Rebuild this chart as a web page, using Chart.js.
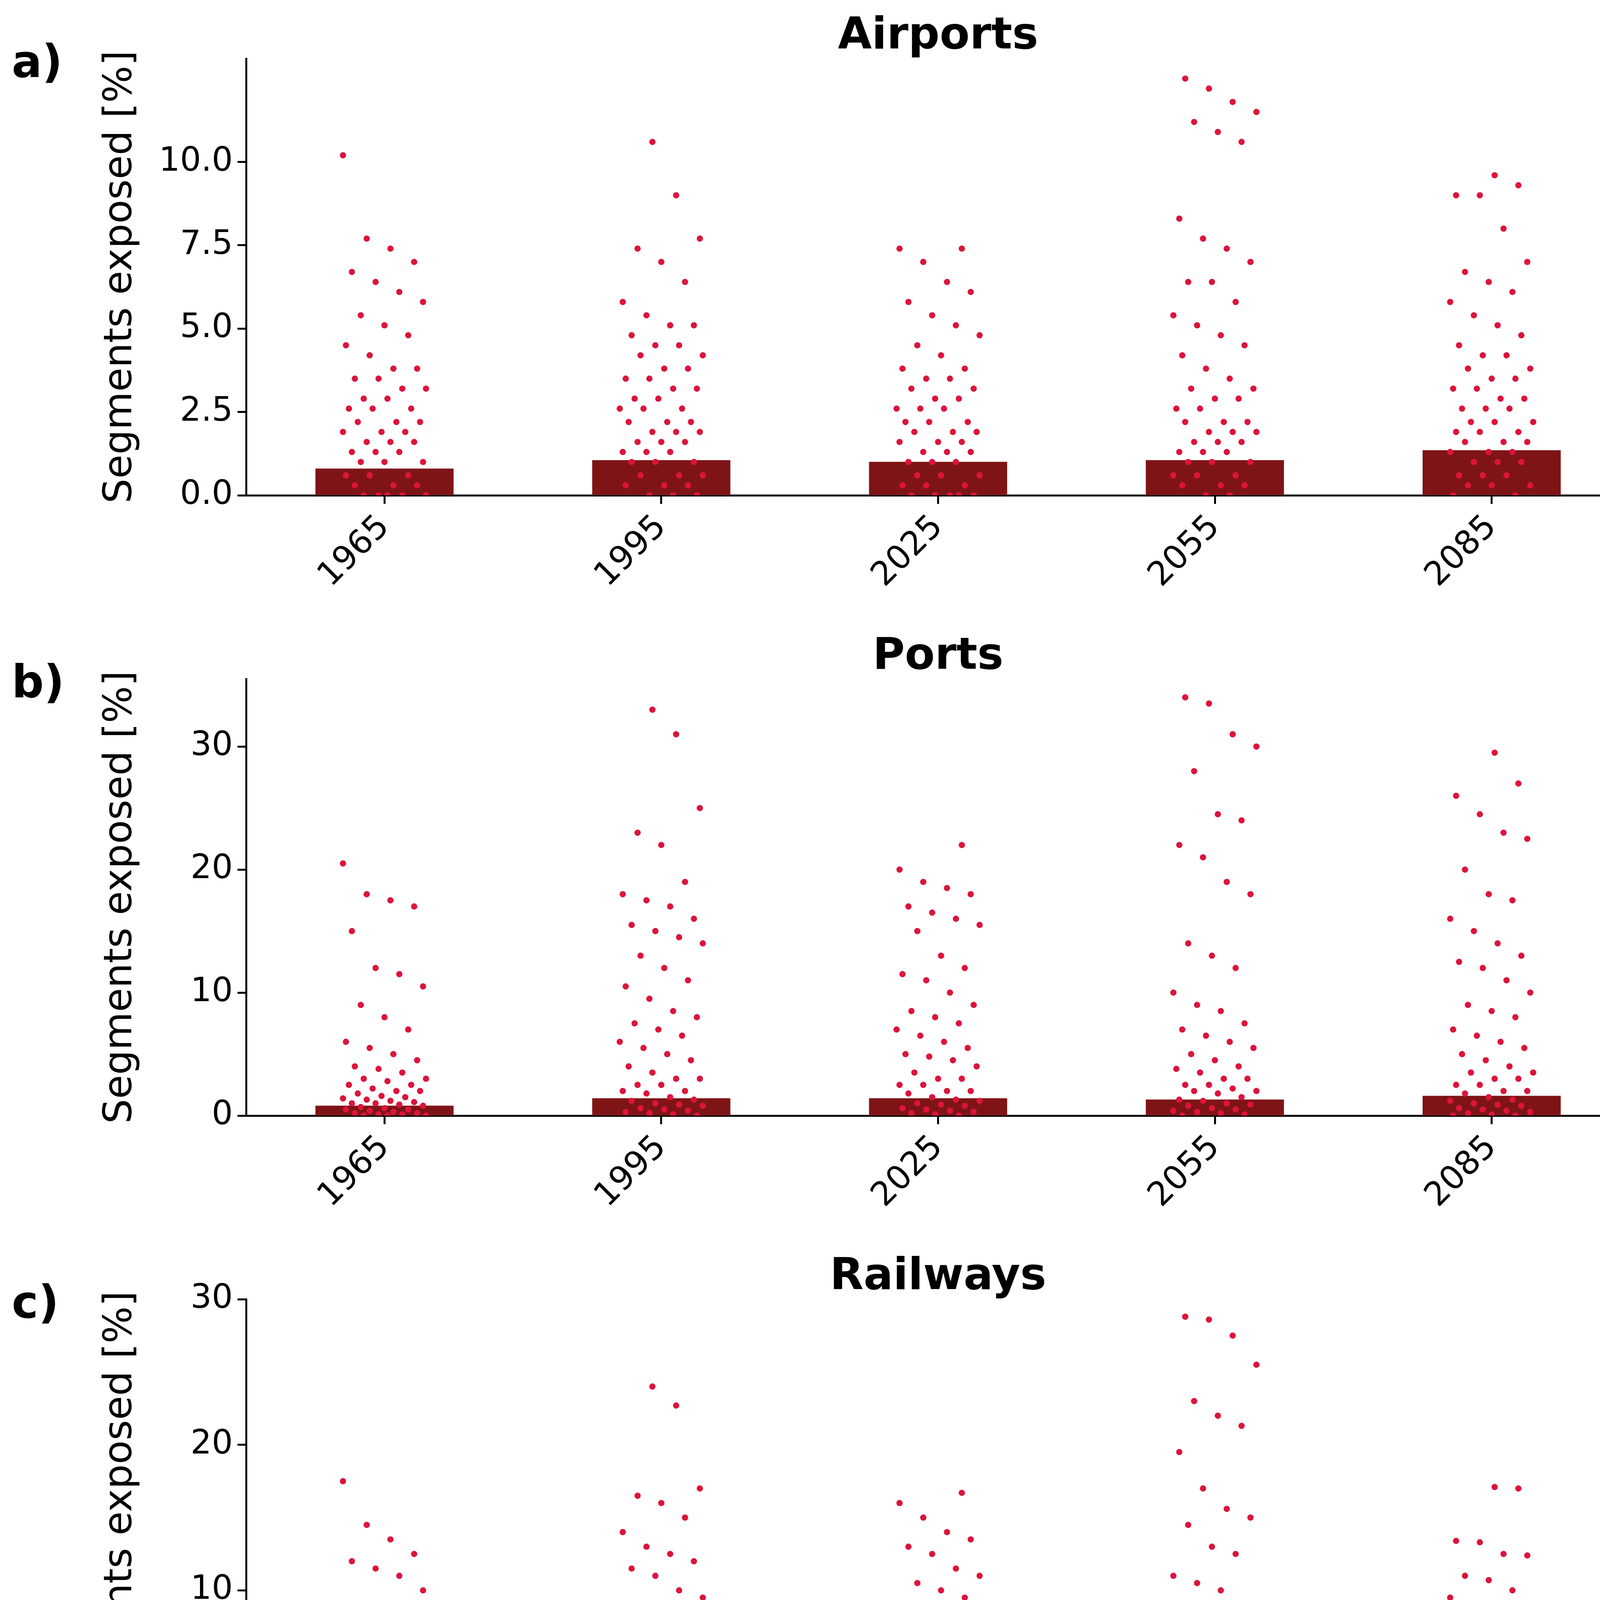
<!DOCTYPE html>
<html><head><meta charset="utf-8">
<script src="https://cdn.jsdelivr.net/npm/chart.js@4"></script>
<style>
body{margin:0;background:#fff;font-family:"DejaVu Sans",sans-serif}
.panel{position:absolute;left:0;width:4204px;height:1578px}
.lbl{position:absolute;left:30px;top:90px;font-weight:bold;font-size:115px}
.ttl{position:absolute;left:630px;width:3543px;top:20px;text-align:center;font-weight:bold;font-size:112px}
</style></head><body>
<script>
const years = ["1965","1995","2025","2055","2085"];
const titles = ["Airports","Ports","Railways","Roads","IWWs"];
const letters = ["a)","b)","c)","d)","e)"];
const yMax = [13.1, 35.5, 30, 20.8, 67];
const yStep = [2.5, 10, 10, 5, 20];

// mean exposure per year (bars)
const meanAirports = [0.8, 1.05, 1.0, 1.05, 1.35];
const meanPorts = [0.8, 1.4, 1.4, 1.3, 1.6];
const meanRailways = [1.0, 1.4, 1.5, 1.4, 1.6];
const meanRoads = [1.0, 1.3, 1.3, 1.25, 1.6];
const meanIWWs = [1.3, 2.5, 2.3, 2.2, 2.7];

// individual country values (strip points)
const ptsAirports = [
 [10.2,7.7,7.4,7.0,6.7,6.4,6.1,5.8,5.4,5.1,4.8,4.5,4.2,3.8,3.8,3.5,3.5,3.2,3.2,2.9,2.9,2.6,2.6,2.6,2.2,2.2,2.2,1.9,1.9,1.9,1.6,1.6,1.6,1.3,1.3,1.3,1.0,1.0,1.0,0.6,0.6,0.6,0.3,0.3,0.3,0,0,0,0,0],
 [10.6,9.0,7.7,7.4,7.0,6.4,5.8,5.4,5.1,5.1,4.8,4.5,4.5,4.2,4.2,3.8,3.8,3.5,3.5,3.2,3.2,2.9,2.9,2.6,2.6,2.6,2.2,2.2,2.2,1.9,1.9,1.9,1.6,1.6,1.6,1.3,1.3,1.3,1.0,1.0,1.0,0.6,0.6,0.6,0.3,0.3,0.3,0,0,0],
 [7.4,7.4,7.0,6.4,6.1,5.8,5.4,5.1,4.8,4.5,4.2,3.8,3.8,3.5,3.5,3.2,3.2,2.9,2.9,2.6,2.6,2.6,2.2,2.2,2.2,1.9,1.9,1.9,1.6,1.6,1.6,1.3,1.3,1.3,1.0,1.0,1.0,0.6,0.6,0.6,0.3,0.3,0.3,0,0,0,0,0],
 [12.5,12.2,11.8,11.5,11.2,10.9,10.6,8.3,7.7,7.4,7.0,6.4,6.4,5.8,5.4,5.1,4.8,4.5,4.2,3.8,3.5,3.2,3.2,2.9,2.9,2.6,2.6,2.2,2.2,2.2,1.9,1.9,1.9,1.6,1.6,1.6,1.3,1.3,1.3,1.0,1.0,1.0,0.6,0.6,0.6,0.3,0.3,0.3,0,0],
 [9.6,9.3,9.0,9.0,8.0,7.0,6.7,6.4,6.1,5.8,5.4,5.1,4.8,4.5,4.2,4.2,3.8,3.8,3.5,3.5,3.2,3.2,2.9,2.9,2.6,2.6,2.6,2.2,2.2,2.2,1.9,1.9,1.9,1.6,1.6,1.6,1.3,1.3,1.3,1.0,1.0,1.0,0.6,0.6,0.6,0.3,0.3,0.3,0,0]
];
const ptsPorts = [
 [20.5,18,17.5,17,15,12,11.5,10.5,9,8,7,6,5.5,5,4.5,4,3.8,3.5,3,3,2.8,2.5,2.5,2.2,2,2,1.8,1.6,1.5,1.4,1.3,1.2,1.1,1,1,0.9,0.8,0.7,0.6,0.5,0.5,0.4,0.3,0.2,0.2,0.1,0.1,0,0,0],
 [33,31,25,23,22,19,18,17.5,17,16,15.5,15,14.5,14,13,12,11,10.5,9.5,8.5,8,7.5,7,6.5,6,5.5,5,4.5,4,3.5,3,3,2.5,2.5,2,2,1.8,1.5,1.3,1.2,1,0.9,0.8,0.6,0.5,0.4,0.3,0.2,0.1,0],
 [22,20,19,18.5,18,17,16.5,16,15.5,15,13,12,11.5,11,10,9,8.5,8,7.5,7,6.5,6,5.5,5,4.8,4.5,4,3.5,3,3,2.5,2.5,2,2,1.8,1.5,1.3,1.2,1,0.9,0.8,0.6,0.5,0.4,0.3,0.2,0.1,0],
 [34,33.5,31,30,28,24.5,24,22,21,19,18,14,13,12,10,9,8.5,7.5,7,6.5,6,5.5,5,4.5,4,3.8,3.5,3,3,2.5,2.5,2.2,2,2,1.8,1.5,1.3,1.2,1,0.9,0.8,0.6,0.5,0.4,0.3,0.2,0.1,0],
 [29.5,27,26,24.5,23,22.5,20,18,17.5,16,15,14,13,12.5,12,11,10,9,8.5,8,7,6.5,6,5.5,5,4.5,4,3.5,3.5,3,3,2.5,2.5,2,2,1.8,1.5,1.3,1.2,1,0.9,0.8,0.6,0.5,0.4,0.3,0.2,0.1,0,0]
];
const ptsRailways = [
 [17.5,14.5,13.5,12.5,12,11.5,11,10,9,8,7.5,7,6.5,6,5.5,5,4.5,4.2,4,3.8,3.5,3.2,3,2.8,2.5,2.3,2.2,2,1.8,1.7,1.5,1.4,1.3,1.2,1.1,1,0.9,0.8,0.7,0.6,0.5,0.4,0.3,0.2,0.1,0,0],
 [24,22.7,17,16.5,16,15,14,13,12.5,12,11.5,11,10,9.5,9,8.5,8,7.5,7,6.5,6,5.5,5,4.5,4,3.8,3.5,3.2,3,2.8,2.5,2.2,2,1.8,1.6,1.5,1.3,1.2,1,0.9,0.8,0.6,0.5,0.4,0.3,0.2,0.1,0],
 [16.7,16,15,14,13.5,13,12.5,11.5,11,10.5,10,9.5,9,8.5,8,7.5,7,6.5,6,5.5,5,4.5,4.2,4,3.8,3.5,3.2,3,2.8,2.5,2.2,2,1.8,1.6,1.5,1.3,1.2,1,0.9,0.8,0.6,0.5,0.4,0.3,0.2,0.1,0],
 [28.8,28.6,27.5,25.5,23,22,21.3,19.5,17,15.6,15,14.5,13,12.5,11,10.5,10,9,8.5,8,7,6.5,6,5.5,5,4.5,4,3.5,3.2,3,2.8,2.5,2.2,2,1.8,1.6,1.5,1.3,1.2,1,0.9,0.8,0.6,0.5,0.4,0.3,0.2,0.1,0],
 [17.1,17,13.4,13.3,12.5,12.4,11,10.7,10,9.5,9,8.5,8,7.5,7,6.5,6,5.5,5,4.8,4.5,4.2,4,3.8,3.5,3.2,3,2.8,2.5,2.3,2.2,2,1.8,1.6,1.5,1.3,1.2,1,0.9,0.8,0.6,0.5,0.4,0.3,0.2,0.1,0]
];
const ptsRoads = [
 [13.3,10.1,9.9,9.6,8.4,8.3,7,6.5,6.2,6,5.7,5.4,5,4.7,4.4,4.2,4,3.8,3.5,3.3,3,2.8,2.6,2.4,2.2,2,1.9,1.7,1.5,1.4,1.3,1.2,1.1,1,0.9,0.8,0.7,0.6,0.5,0.4,0.3,0.2,0.1,0],
 [16.9,16.4,12.8,11.6,10.9,10.4,9.7,8.8,8.5,8,7.5,7,6.8,6.5,6.2,6,5.6,5.2,5,4.7,4.4,4.2,4,3.8,3.5,3.3,3,2.8,2.6,2.4,2.2,2,1.8,1.6,1.5,1.3,1.2,1,0.9,0.8,0.6,0.5,0.4,0.3,0.2,0.1,0],
 [12.1,10.7,10.5,10.1,10,9.5,9,8.5,8,7.7,7.3,7,6.7,6.4,6,5.7,5.3,5,4.7,4.4,4.2,4,3.8,3.5,3.3,3,2.8,2.6,2.4,2.2,2,1.8,1.6,1.5,1.3,1.2,1,0.9,0.8,0.6,0.5,0.4,0.3,0.2,0.1,0],
 [19.8,19.6,18.6,17.2,16.1,15.9,13.7,13.3,12.2,11.5,10.3,10,9.8,9,8.4,7.7,7.5,7,6.5,6.2,5.8,5.5,5,4.7,4.5,4.2,4,3.7,3.4,3.1,2.8,2.6,2.4,2.2,2,1.8,1.6,1.5,1.3,1.2,1,0.9,0.8,0.6,0.5,0.4,0.3,0.2,0.1,0],
 [12.9,12.8,12.7,10.2,10,9.6,9.4,9,8.5,8.2,7.8,7.5,7.2,6.9,6.5,6.2,6,5.7,5.4,5.1,4.8,4.5,4.3,4,3.8,3.6,3.4,3.2,3,2.8,2.6,2.4,2.2,2,1.8,1.6,1.5,1.3,1.2,1,0.9,0.8,0.6,0.5,0.4,0.3,0.2,0]
];
const ptsIWWs = [
 [29,26,25,22,21,20,19,17,15,14,13,12,11.5,11,10,9,8.5,8,7.5,7,6,5.5,5,4.5,4,3.5,3,3,2.5,2,2,1.5,1.2,1,0.8,0.6,0.4,0.2,0,0],
 [59,57,44,36,33,33,30,28,27,26,25,23,22,21,20,19,18,17,16,15,14,13,12,11,10,9,8,7,6,5.5,5,4.5,4,3.5,3,2.5,2,1.5,1,0.8,0.5,0.2,0],
 [37,35,33,33,31,30,28,26,25,22,20,19,18,17,15,14,13,12,11,10,9,8,7,6.5,6,5.5,5,4.5,4,3.5,3,2.5,2,1.5,1,0.8,0.5,0.2,0],
 [64,63.5,61,60,47,44,43,38,35,32,31,27,26,22,20,19,18,16,14,13,12,11,10,9,8,7,6.5,6,5.5,5,4.5,4,3.5,3,2.5,2,1.5,1,0.8,0.5,0.2,0],
 [49,48,45,44,40,39,35,31,28,25,23,20,19,18,17,16,15,14,13,12,11,10,9,8,7,6.5,6,5.5,5,4.5,4,3.5,3,2.5,2,1.5,1,0.8,0.5,0.2,0]
];

const means = [meanAirports, meanPorts, meanRailways, meanRoads, meanIWWs];
const points = [ptsAirports, ptsPorts, ptsRailways, ptsRoads, ptsIWWs];

const PANEL_H = 1588;
const FONT = "'DejaVu Sans', sans-serif";

titles.forEach((t, p) => {
  const div = document.createElement("div");
  div.className = "panel";
  div.style.top = (p * PANEL_H) + "px";
  div.innerHTML = `<div class="lbl">${letters[p]}</div><div class="ttl">${t}</div><canvas width="4204" height="1578"></canvas>`;
  document.body.appendChild(div);

  // strip points, jittered horizontally around each year
  const scatter = [];
  points[p].forEach((arr, g) => {
    arr.forEach((v, i) => {
      const j = (((i * 37 + g * 11) % 29) / 28 - 0.5) * 0.3;
      scatter.push({x: g + j, y: v});
    });
  });
  const bars = means[p].map((v, g) => ({x: g, y: v}));

  new Chart(div.querySelector("canvas"), {
    data: {
      datasets: [
        {type: "scatter", data: scatter, backgroundColor: "#dc143c", borderWidth: 0, pointRadius: 8, order: 0},
        {type: "bar", data: bars, backgroundColor: "#7f1416", barThickness: 353, order: 1}
      ]
    },
    options: {
      responsive: false, animation: false,
      layout: {padding: {top: 150, right: 31, left: 250, bottom: 0}},
      plugins: {legend: {display: false}, tooltip: {enabled: false}},
      scales: {
        x: {
          type: "linear", min: -0.5, max: 4.5, offset: false,
          afterFit: s => { s.height = 310; },
          afterBuildTicks: s => { s.ticks = years.map((_, i) => ({value: i})); },
          ticks: {callback: v => years[v], maxRotation: 45, minRotation: 45, color: "#000", font: {size: 85, family: FONT}, padding: 10},
          grid: {offset: false, drawOnChartArea: false, drawTicks: true, tickLength: 22, tickWidth: 5, color: "#000"},
          border: {color: "#000", width: 5}
        },
        y: {
          min: 0, max: yMax[p],
          afterFit: s => { s.width = 380; },
          afterBuildTicks: s => { s.ticks = s.ticks.filter(k => Math.abs(k.value / yStep[p] - Math.round(k.value / yStep[p])) < 1e-6); },
          ticks: {stepSize: yStep[p], color: "#000", font: {size: 85, family: FONT}, padding: 12,
            callback: v => yStep[p] < 5 ? v.toFixed(1) : v},
          title: {display: true, text: "Segments exposed [%]", color: "#000", font: {size: 100, family: FONT}, padding: 0},
          grid: {drawOnChartArea: false, drawTicks: true, tickLength: 22, tickWidth: 5, color: "#000"},
          border: {color: "#000", width: 5}
        }
      }
    }
  });
});
</script>
</body></html>
